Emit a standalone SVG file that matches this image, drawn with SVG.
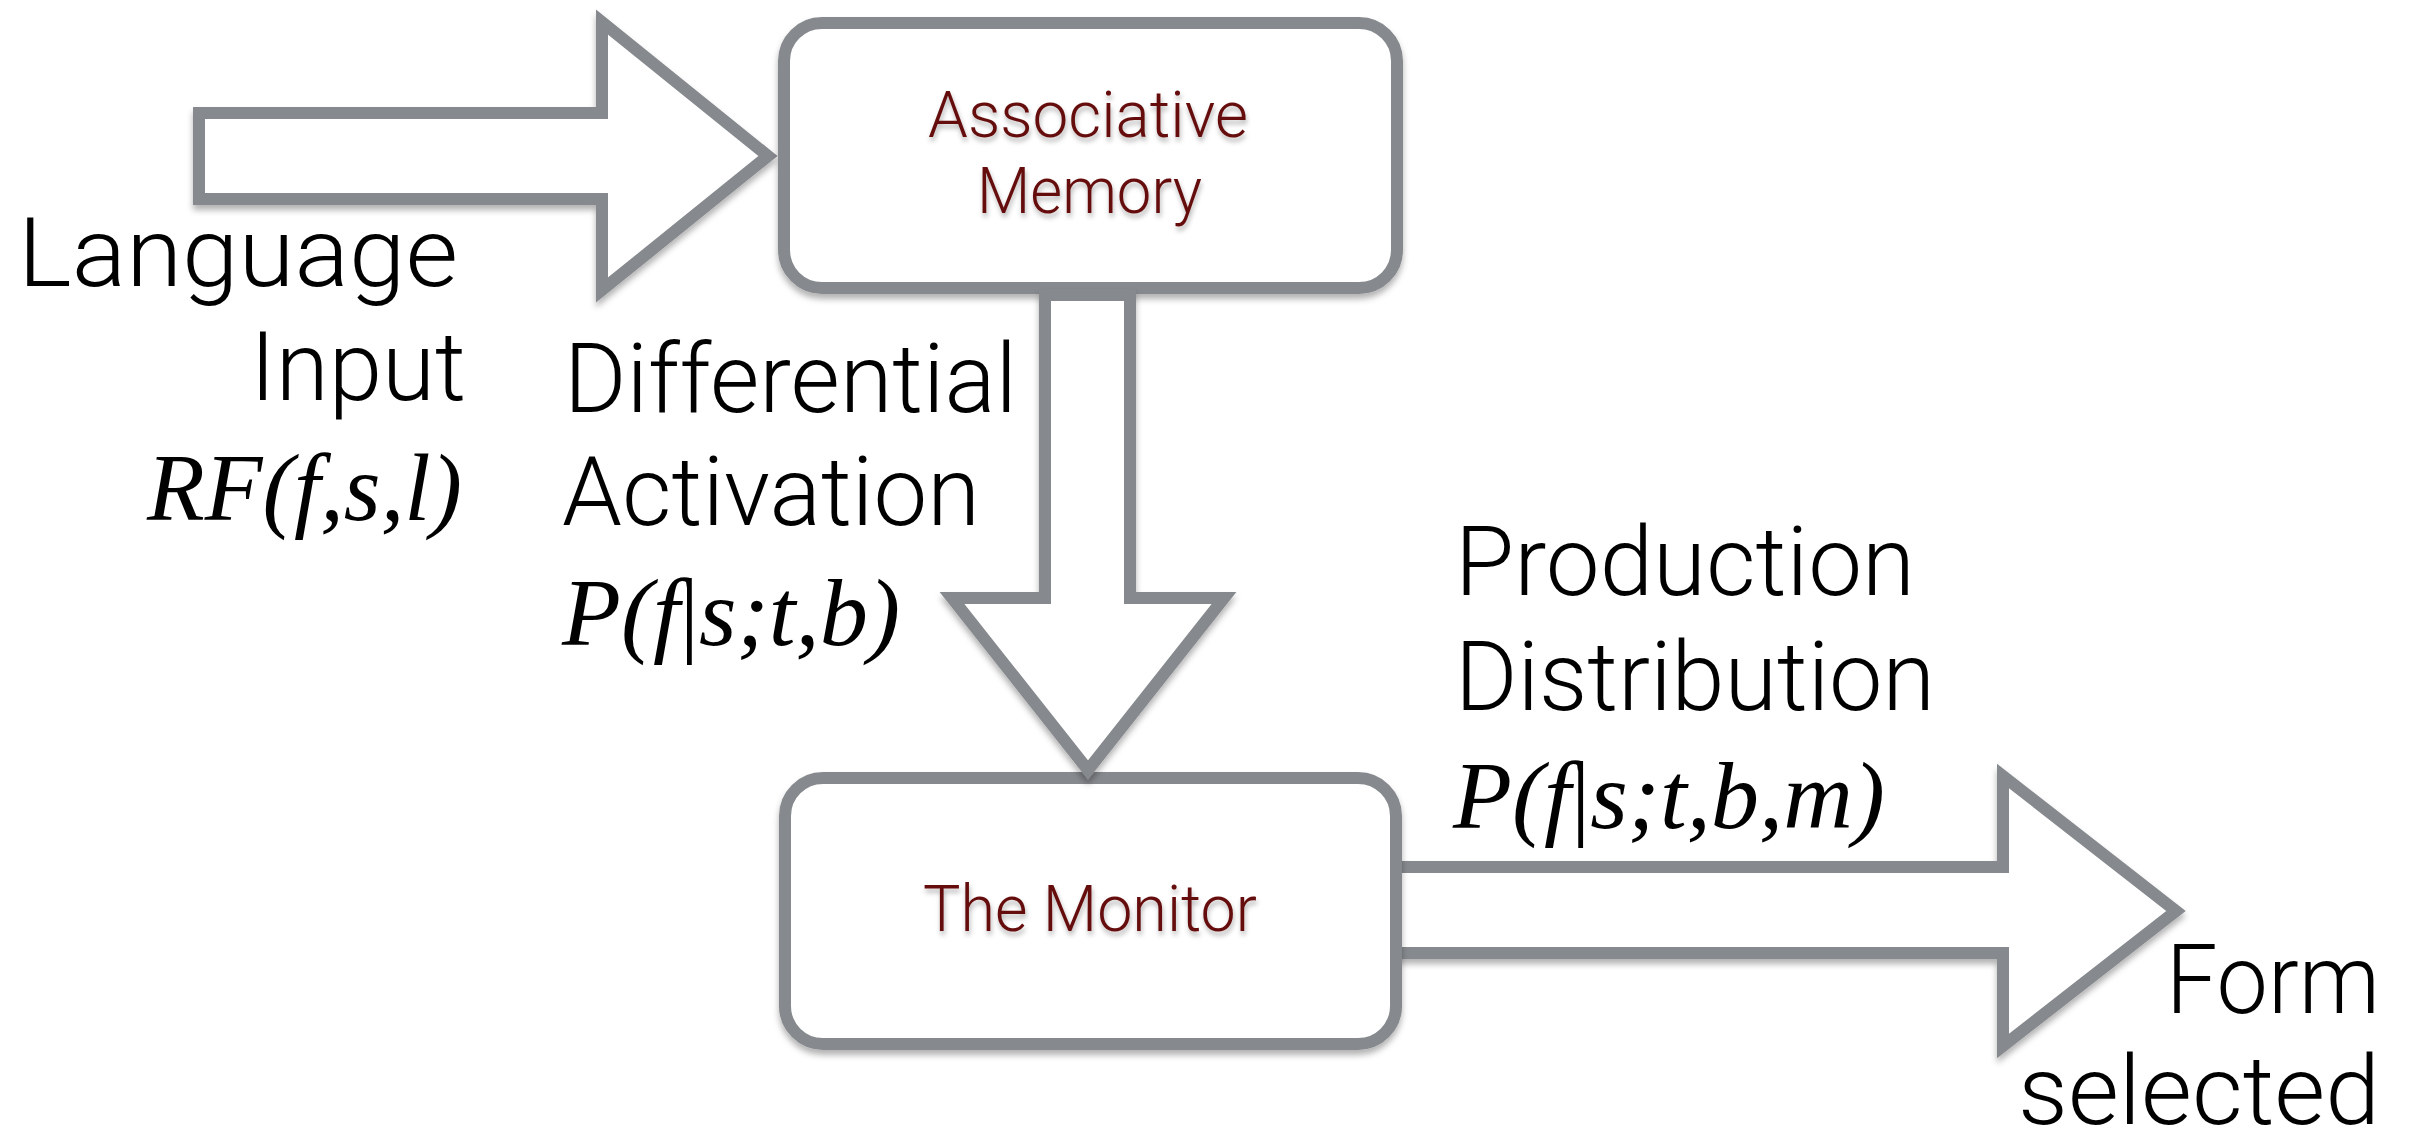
<svg xmlns="http://www.w3.org/2000/svg" width="2409" height="1133" viewBox="0 0 2409 1133">
  <defs>
    <filter id="shadow" x="-10%" y="-10%" width="120%" height="130%">
      <feDropShadow dx="0" dy="5" stdDeviation="3" flood-color="#000" flood-opacity="0.3"/>
    </filter>
    <filter id="tshadow" x="-10%" y="-30%" width="120%" height="160%">
      <feDropShadow dx="1" dy="4" stdDeviation="2.5" flood-color="#000" flood-opacity="0.3"/>
    </filter>
  </defs>
  <style>
    .shape { fill: #ffffff; stroke: #86898d; stroke-width: 12; stroke-linejoin: miter; filter: url(#shadow); }
    .node-label { font-family: "Roboto", "Liberation Sans", Arial, sans-serif; font-weight: 300; font-size: 64px; fill: #650d0d; filter: url(#tshadow); }
    .label { font-family: "Roboto", "Liberation Sans", Arial, sans-serif; font-weight: 300; font-size: 96px; fill: #000000; }
    .math { font-family: "Liberation Serif", "Times New Roman", serif; font-style: italic; font-size: 95px; fill: #000000; }
    .up { font-style: normal; }
  </style>
  <rect width="2409" height="1133" fill="#ffffff"/>

  <g id="connectors">
    <path id="arrow-input" class="shape" d="M199,113 H602 V22 L768,156 L602,290 V199 H199 Z"/>
    <path id="arrow-output" class="shape" d="M1390,867 H2003 V776 L2176,911 L2003,1046 V953 H1390 Z"/>
  </g>

  <g id="node-associative-memory">
    <rect class="shape" x="784" y="23" width="613" height="265" rx="38" ry="38"/>
    <text class="node-label" x="928" y="137" textLength="320" lengthAdjust="spacingAndGlyphs">Associative</text>
    <text class="node-label" x="977" y="213" textLength="225" lengthAdjust="spacingAndGlyphs">Memory</text>
  </g>

  <g id="node-monitor">
    <rect class="shape" x="785" y="778" width="611" height="266" rx="38" ry="38"/>
    <text class="node-label" x="923" y="931" textLength="334" lengthAdjust="spacingAndGlyphs">The Monitor</text>
  </g>

  <g id="connector-activation">
    <path class="shape" d="M1045,295 V598 H952 L1088,770 L1224,598 H1130 V295 Z"/>
  </g>

  <g id="labels">
    <text class="label" x="18" y="286" textLength="440" lengthAdjust="spacingAndGlyphs">Language</text>
    <text class="label" x="250" y="400" textLength="216" lengthAdjust="spacingAndGlyphs">Input</text>
    <text class="math" x="147" y="520" textLength="315" lengthAdjust="spacingAndGlyphs">RF(f,s,l)</text>

    <text class="label" x="564" y="412" textLength="453" lengthAdjust="spacingAndGlyphs">Differential</text>
    <text class="label" x="562" y="525" textLength="418" lengthAdjust="spacingAndGlyphs">Activation</text>
    <text class="math" x="562" y="645" textLength="338" lengthAdjust="spacingAndGlyphs">P(f<tspan class="up">|</tspan>s;t,b)</text>

    <text class="label" x="1455" y="595" textLength="460" lengthAdjust="spacingAndGlyphs">Production</text>
    <text class="label" x="1455" y="710" textLength="480" lengthAdjust="spacingAndGlyphs">Distribution</text>
    <text class="math" x="1453" y="828" textLength="432" lengthAdjust="spacingAndGlyphs">P(f<tspan class="up">|</tspan>s;t,b,m)</text>

    <text class="label" x="2166" y="1013" textLength="214" lengthAdjust="spacingAndGlyphs">Form</text>
    <text class="label" x="2018" y="1124" textLength="362" lengthAdjust="spacingAndGlyphs">selected</text>
  </g>
</svg>
